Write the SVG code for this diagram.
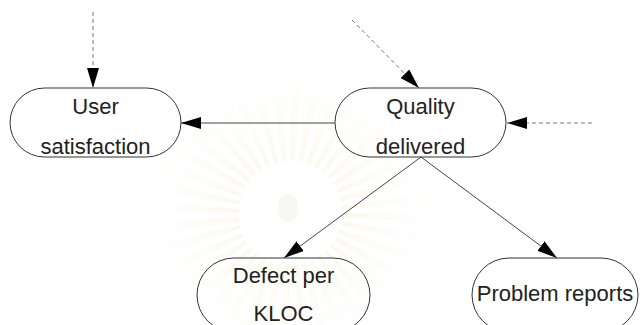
<svg xmlns="http://www.w3.org/2000/svg" width="640" height="325" viewBox="0 0 640 325">
  <defs>
    <style>
      .node { fill: none; stroke: #333; stroke-width: 1; }
      .label { font-family: "Liberation Sans", Arial, sans-serif; font-size: 22px; fill: #222; text-anchor: middle; }
      .solid { stroke: #444; stroke-width: 1; fill: none; }
      .dashed { stroke: #777; stroke-width: 1; fill: none; stroke-dasharray: 4 3; }
    </style>
    <marker id="head" markerUnits="userSpaceOnUse" markerWidth="20" markerHeight="12" refX="20" refY="6" orient="auto">
      <path d="M0,0 L20,6 L0,12 Z" fill="#000"/>
    </marker>
    <radialGradient id="rayFade" gradientUnits="userSpaceOnUse" cx="290" cy="213" r="145">
      <stop offset="0.35" stop-color="#f1e2b4" stop-opacity="0.22"/>
      <stop offset="0.7" stop-color="#f4e8c6" stop-opacity="0.12"/>
      <stop offset="1" stop-color="#f7efd8" stop-opacity="0"/>
    </radialGradient>
  </defs>

  <rect width="640" height="325" fill="#fff"/>

  <!-- faint seal in the background -->
  <g id="seal">
    <circle cx="290" cy="213" r="95" fill="none" stroke="url(#rayFade)" stroke-width="90" stroke-dasharray="7.46 7.46"/>
    <circle cx="290" cy="213" r="52" fill="#fff"/>
    <ellipse cx="288" cy="208" rx="10" ry="14" fill="#f8f7f4"/>
  </g>

  <g id="connectors">
    <line class="solid" x1="335" y1="123" x2="181" y2="123" marker-end="url(#head)"/>
    <line class="dashed" x1="93" y1="12" x2="93" y2="88" marker-end="url(#head)"/>
    <line class="dashed" x1="352" y1="20" x2="419" y2="88" marker-end="url(#head)"/>
    <line class="dashed" x1="592" y1="123" x2="507" y2="123" marker-end="url(#head)"/>
    <line class="solid" x1="421" y1="157" x2="284" y2="258" marker-end="url(#head)"/>
    <line class="solid" x1="421" y1="157" x2="557" y2="258" marker-end="url(#head)"/>
  </g>

  <g id="user-satisfaction">
    <rect class="node" x="10" y="88" width="171" height="69" rx="34.5"/>
    <text class="label" x="95.5" y="114">User</text>
    <text class="label" x="95.5" y="154">satisfaction</text>
  </g>

  <g id="quality-delivered">
    <rect class="node" x="335" y="88" width="171" height="69" rx="34.5"/>
    <text class="label" x="420.5" y="114">Quality</text>
    <text class="label" x="420.5" y="154">delivered</text>
  </g>

  <g id="defect-per-kloc">
    <rect class="node" x="197" y="258" width="173" height="74" rx="37"/>
    <text class="label" x="283.5" y="283">Defect per</text>
    <text class="label" x="283.5" y="321">KLOC</text>
  </g>

  <g id="problem-reports">
    <rect class="node" x="472" y="258" width="166" height="74" rx="37"/>
    <text class="label" x="555" y="301">Problem reports</text>
  </g>
</svg>
